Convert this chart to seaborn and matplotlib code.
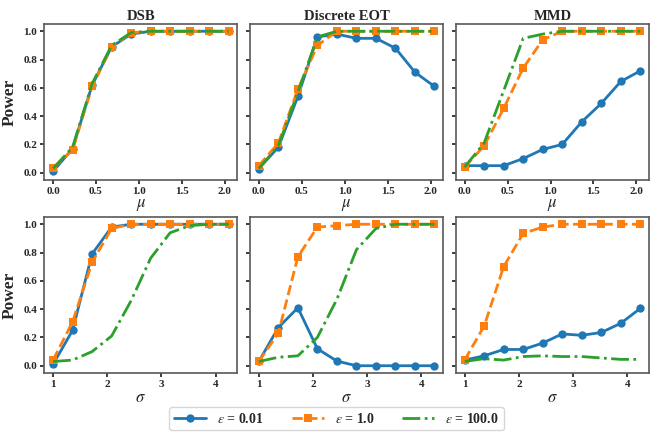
import numpy as np
import pandas as pd
import matplotlib
matplotlib.use("Agg")
import matplotlib.pyplot as plt
import seaborn as sns

# x grids
mu = [0.0, 0.227, 0.455, 0.682, 0.909, 1.136, 1.364, 1.591, 1.818, 2.045]
sigma = [1.0, 1.36, 1.72, 2.08, 2.44, 2.80, 3.16, 3.52, 3.88, 4.24]

methods = ['DSB', 'Discrete EOT', 'MMD']
eps_labels = [r'$\varepsilon$ = 0.01', r'$\varepsilon$ = 1.0', r'$\varepsilon$ = 100.0']

# power vs mu (top row), one list per epsilon
mu_power = {
    'DSB': [
        [0.01, 0.17, 0.62, 0.89, 0.98, 1.0, 1.0, 1.0, 1.0, 1.0],
        [0.035, 0.16, 0.61, 0.89, 0.99, 1.0, 1.0, 1.0, 1.0, 1.0],
        [0.03, 0.18, 0.63, 0.90, 0.99, 1.0, 1.0, 1.0, 1.0, 1.0],
    ],
    'Discrete EOT': [
        [0.03, 0.18, 0.54, 0.96, 0.98, 0.95, 0.95, 0.88, 0.71, 0.61],
        [0.05, 0.21, 0.59, 0.90, 1.0, 1.0, 1.0, 1.0, 1.0, 1.0],
        [0.03, 0.19, 0.57, 0.96, 1.0, 1.0, 1.0, 1.0, 1.0, 1.0],
    ],
    'MMD': [
        [0.05, 0.05, 0.05, 0.10, 0.165, 0.20, 0.36, 0.49, 0.645, 0.72],
        [0.04, 0.19, 0.455, 0.74, 0.94, 1.0, 1.0, 1.0, 1.0, 1.0],
        [0.04, 0.21, 0.58, 0.95, 0.98, 1.0, 1.0, 1.0, 1.0, 1.0],
    ],
}

# power vs sigma (bottom row)
sigma_power = {
    'DSB': [
        [0.01, 0.25, 0.79, 0.98, 1.0, 1.0, 1.0, 1.0, 1.0, 1.0],
        [0.04, 0.31, 0.73, 0.97, 1.0, 1.0, 1.0, 1.0, 1.0, 1.0],
        [0.03, 0.04, 0.10, 0.21, 0.46, 0.76, 0.94, 0.99, 1.0, 1.0],
    ],
    'Discrete EOT': [
        [0.03, 0.27, 0.41, 0.12, 0.033, 0.0, 0.0, 0.0, 0.0, 0.0],
        [0.03, 0.23, 0.77, 0.98, 0.99, 1.0, 1.0, 1.0, 1.0, 1.0],
        [0.03, 0.06, 0.07, 0.20, 0.47, 0.82, 0.97, 1.0, 1.0, 1.0],
    ],
    'MMD': [
        [0.04, 0.07, 0.115, 0.115, 0.16, 0.225, 0.215, 0.235, 0.30, 0.405],
        [0.04, 0.28, 0.70, 0.935, 0.98, 1.0, 1.0, 1.0, 1.0, 1.0],
        [0.03, 0.05, 0.04, 0.065, 0.07, 0.065, 0.065, 0.055, 0.045, 0.045],
    ],
}

sns.set_theme(style="ticks")
plt.rcParams['font.family'] = ['Liberation Serif', 'DejaVu Serif']
plt.rcParams['mathtext.fontset'] = 'stix'

colors = sns.color_palette('tab10', 3)
styles = [dict(linestyle='-', marker='o'),
          dict(linestyle='--', marker='s'),
          dict(linestyle='-.', marker=None)]

fig, axes = plt.subplots(2, 3, figsize=(6.51, 4.32), dpi=100, sharey=True)

for row, (xs, table, xlab, xt) in enumerate([
        (mu, mu_power, r'$\mu$', [0.0, 0.5, 1.0, 1.5, 2.0]),
        (sigma, sigma_power, r'$\sigma$', [1, 2, 3, 4])]):
    for col, m in enumerate(methods):
        ax = axes[row, col]
        for k in range(3):
            df = pd.DataFrame({'x': xs, 'power': table[m][k]})
            sns.lineplot(data=df, x='x', y='power', ax=ax, color=colors[k],
                         linewidth=2, markersize=6, markeredgewidth=0,
                         label=eps_labels[k], legend=False, **styles[k])
        ax.set_xticks(xt)
        ax.set_yticks([0.0, 0.2, 0.4, 0.6, 0.8, 1.0])
        ax.set_xlabel(xlab, fontsize=12, labelpad=1)
        ax.set_ylabel('Power' if col == 0 else '', fontsize=12.5, fontweight='bold')
        ax.tick_params(labelsize=8, length=3, pad=2)
        for lab in ax.get_xticklabels() + ax.get_yticklabels():
            lab.set_fontweight('bold')
        for sp in ax.spines.values():
            sp.set_color('0.35')
            sp.set_linewidth(1.2)
        if row == 0:
            ax.set_title(m, fontsize=10.5, fontweight='bold', pad=3)
            ax.set_xticklabels(['0.0', '0.5', '1.0', '1.5', '2.0'], fontweight='bold')

fig.subplots_adjust(left=0.068, right=0.997, top=0.944, bottom=0.137,
                    wspace=0.065, hspace=0.24)

handles, labels = axes[0, 0].get_legend_handles_labels()
fig.legend(handles, labels, loc='center', bbox_to_anchor=(0.517, 0.031),
           ncol=3, prop={'weight': 'bold', 'size': 10}, frameon=True,
           handlelength=2.3, handletextpad=0.8, columnspacing=2.0,
           borderpad=0.35)

fig.savefig('out.png', dpi=100)
